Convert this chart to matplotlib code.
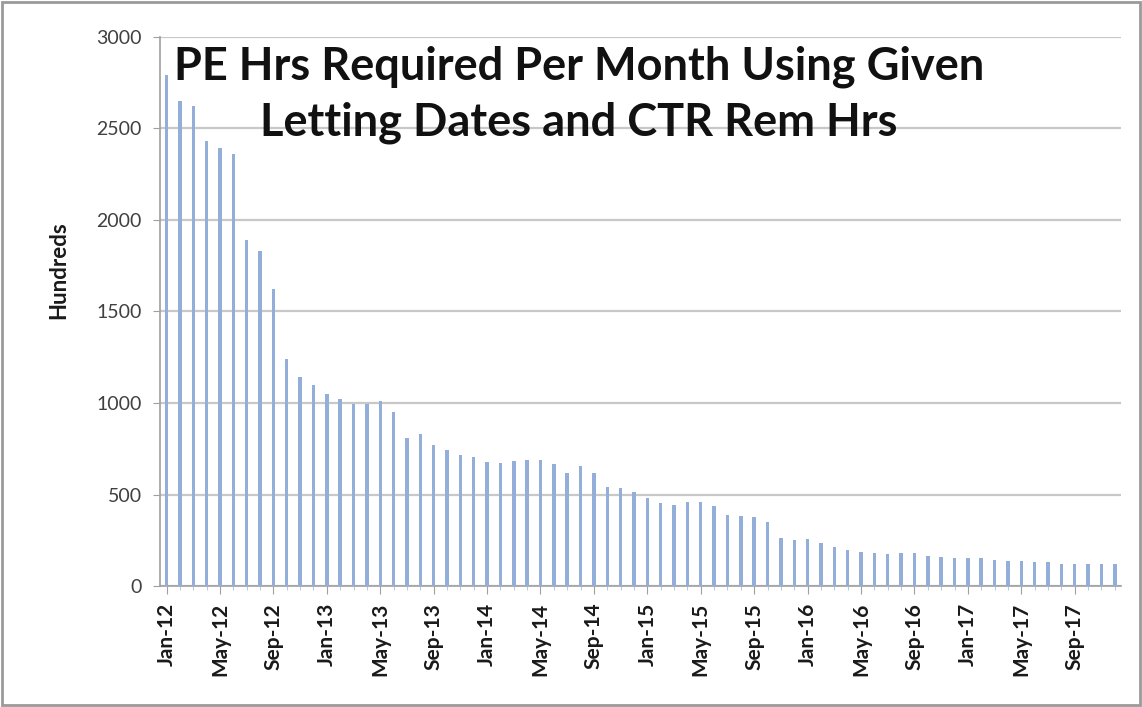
import numpy as np
import matplotlib
matplotlib.use("Agg")
import matplotlib.pyplot as plt
from matplotlib.patches import Rectangle

# monthly PE hours (in hundreds), Jan-12 .. Dec-17
years = ["12", "13", "14", "15", "16", "17"]
month_names = ["Jan", "Feb", "Mar", "Apr", "May", "Jun",
               "Jul", "Aug", "Sep", "Oct", "Nov", "Dec"]
months = [f"{m}-{y}" for y in years for m in month_names]

hours = [
    # 2012
    2790, 2650, 2620, 2430, 2390, 2360, 1890, 1830, 1620, 1240, 1140, 1100,
    # 2013
    1050, 1020, 995, 995, 1010, 950, 810, 830, 770, 743, 716, 707,
    # 2014
    679, 674, 683, 689, 689, 667, 616, 656, 619, 539, 534, 512,
    # 2015
    479, 455, 443, 461, 461, 437, 388, 383, 375, 352, 260, 251,
    # 2016
    255, 237, 215, 197, 188, 179, 175, 179, 179, 164, 157, 151,
    # 2017
    151, 151, 142, 137, 137, 133, 133, 120, 120, 123, 123, 120,
]

yticks = [0, 500, 1000, 1500, 2000, 2500, 3000]
title = "PE Hrs Required Per Month Using Given\nLetting Dates and CTR Rem Hrs"

plt.rcParams["font.family"] = ["Lato", "DejaVu Sans"]

fig = plt.figure(figsize=(11.42, 7.07), dpi=100)
ax = fig.add_axes([0.140, 0.171, 0.842, 0.777])

x = np.arange(len(hours))
ax.bar(x, hours, width=0.26, color="#94AEDA", zorder=3)

ax.set_xlim(-0.5, len(hours) - 0.5)
ax.set_ylim(0, 3000)
ax.set_yticks(yticks)
ax.set_yticklabels([str(v) for v in yticks], fontsize=14, color="#404040")
ax.yaxis.grid(True, color="#C8C8C8", linewidth=1.6, zorder=0)

ax.set_xticks(x[::4])
ax.set_xticklabels(months[::4], rotation=90, fontsize=15,
                   fontweight="bold", color="#1a1a1a")
ax.set_xticks(x, minor=True)
ax.tick_params(axis="x", which="major", length=6, color="#A0A0A0", pad=6)
ax.tick_params(axis="x", which="minor", length=3, color="#A8C0E0")
ax.tick_params(axis="y", length=5, color="#A0A0A0", pad=8)

for side in ["top", "right"]:
    ax.spines[side].set_visible(False)
for side in ["left", "bottom"]:
    ax.spines[side].set_color("#A0A0A0")
    ax.spines[side].set_linewidth(1.2)

ax.set_ylabel("Hundreds", fontsize=16, fontweight="bold", color="#1a1a1a")
ax.yaxis.set_label_coords(-0.094, 0.576)

ax.text(0.436, 0.985, title, transform=ax.transAxes, ha="center", va="top",
        fontsize=32.5, fontweight="bold", color="#111111",
        linespacing=1.4, zorder=5)

# grey frame around the whole chart
fig.patches.append(Rectangle((0.002, 0.003), 0.996, 0.994,
                             transform=fig.transFigure, fill=False,
                             edgecolor="#9A9A9A", linewidth=2))

fig.savefig("out.png", dpi=100)
